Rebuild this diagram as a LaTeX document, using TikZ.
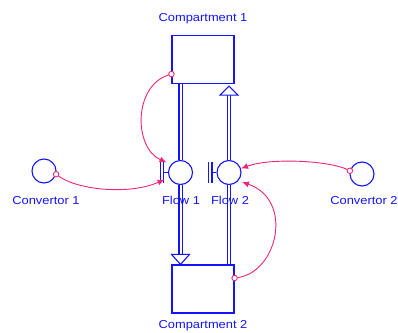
\documentclass[tikz,border=0pt]{standalone}
\usepackage{fontspec}
\setmainfont{Liberation Sans}[FakeStretch=1.12]
\usepackage{tikz}
\usetikzlibrary{arrows.meta,calc,positioning}
\definecolor{myblue}{RGB}{20,20,255}
\definecolor{mypink}{RGB}{238,36,122}
\tikzset{
    mystock/.style={draw=myblue,line width=1.2pt,fill=white,minimum width=62pt,minimum height=48pt,inner sep=0pt},
    myflow/.style={circle,draw=myblue,line width=1.1pt,fill=white,minimum size=24pt,inner sep=0pt},
    myconv/.style={circle,draw=myblue,line width=1.1pt,fill=white,minimum size=24pt,inner sep=0pt},
    mypipe/.style={draw=myblue,double=white,double distance=2pt,line width=1.1pt},
    myhead/.style={draw=myblue,fill=white,line width=1.1pt,line join=miter},
    mylink/.style={draw=mypink,line width=0.9pt,-{Latex[length=7pt,width=6pt]}},
    mydot/.style={circle,draw=mypink,fill=white,line width=0.9pt,minimum size=5.5pt,inner sep=0pt},
    mylabel/.style={text=myblue,anchor=base,inner sep=0pt,font=\fontsize{11.5}{13}\selectfont}
}
\begin{document}
\begin{tikzpicture}[x=1pt,y=-1pt]
          % coordonnees en pixels de l'image, y vers le bas
          \useasboundingbox (0,0) rectangle (398,332);
          \node[mystock] (C1) at (203,59.5) {};
          \node[mystock] (C2) at (203,289) {};
          \node[myflow] (F1) at (180.5,172.5) {};
          \node[myflow] (F2) at (229,172.5) {};
          \node[myconv] (V1) at (44,171) {};
          \node[myconv] (V2) at (362,174) {};
          % tuyaux des flux
          \draw[mypipe] (C1.south -| F1) -- (F1.north);
          \draw[mypipe] (F1.south) -- ($(F1 |- C2.north)+(0,-10)$);
          \draw[myhead] (F1 |- C2.north) -- ++(-9,-10) -- ++(18,0) -- cycle;
          \draw[mypipe] (C2.north -| F2) -- (F2.south);
          \draw[mypipe] (F2.north) -- ($(F2 |- C1.south)+(0,11)$);
          \draw[myhead] ($(F2 |- C1.south)+(0,2)$) -- ++(9,9) -- ++(-18,0) -- cycle;
          \foreach \f in {F1,F2}{
            \draw[myblue,line width=1.1pt] (\f.west) -- ++(-6,0) coordinate (\f v);
            \draw[mypipe] ($(\f v)+(0,-10.5)$) -- ($(\f v)+(0,10.5)$);
          }
          % connecteurs
          \node[mydot] (C1d) at ($(C1.south west)+(0,-10)$) {};
          \node[mydot] (C2d) at ($(C2.east)+(0,-11)$) {};
          \node[mydot] (V1d) at (V1.-15) {};
          \node[mydot] (V2d) at (V2.165) {};
          \draw[mylink] (C1d) .. controls +(-38,12) and +(-33,-15) .. ($(F1)+(-14,-10)$);
          \draw[mylink] (V1d) .. controls +(22,16) and +(-34.5,15.5) .. ($(F1)+(-16,7)$);
          \draw[mylink] (V2d) .. controls +(-21,-10) and +(30,-11) .. ($(F2)+(12,-4)$);
          \draw[mylink] (C2d) .. controls +(43,-6) and +(52,18) .. ($(F2)+(13,9.5)$);
          % textes
          \node[mylabel] (C1t) at (203,21.5) {Compartment 1};
          \node[mylabel] (C2t) at (203,328.5) {Compartment 2};
          \node[mylabel] (F1t) at (181,204.5) {Flow 1};
          \node[mylabel] (F2t) at (230,204.5) {Flow 2};
          \node[mylabel] (V1t) at (46,204.5) {Convertor 1};
          \node[mylabel] (V2t) at (364,204.5) {Convertor 2};
        \end{tikzpicture}
\end{document}
